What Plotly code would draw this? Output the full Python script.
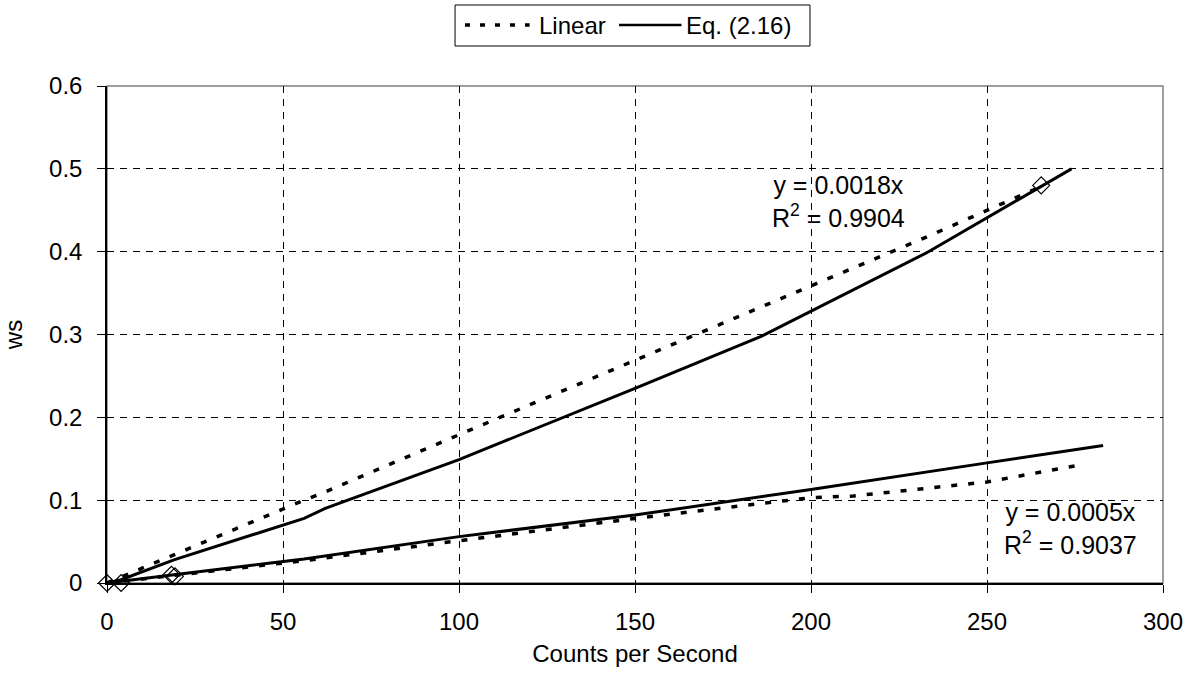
import plotly.graph_objects as go

# ---- data ----
upper_eq_x = [0, 4, 19, 56, 62, 100, 150, 186, 233, 274]
upper_eq_y = [0, 0.004, 0.028, 0.078, 0.09, 0.149, 0.235, 0.298, 0.399, 0.5]

upper_lin_x = [0, 4, 19, 56, 62, 100, 150, 186, 233, 265]
upper_lin_y = [0, 0.007, 0.034, 0.1, 0.11, 0.179, 0.269, 0.333, 0.418, 0.478]

lower_eq_x = [0, 4, 19, 56, 100, 150, 200, 250, 283]
lower_eq_y = [0, 0.002, 0.01, 0.029, 0.056, 0.082, 0.113, 0.145, 0.166]

lower_lin_x = [0, 4, 19, 56, 100, 150, 200, 212, 250, 277]
lower_lin_y = [0, 0.002, 0.009, 0.027, 0.051, 0.078, 0.103, 0.105, 0.122, 0.143]

measured_x = [0, 4, 18.3, 19.3, 265.4]
measured_y = [0, 0, 0.010, 0.008, 0.48]

x_ticks = [0, 50, 100, 150, 200, 250, 300]
y_ticks = [0, 0.1, 0.2, 0.3, 0.4, 0.5, 0.6]
y_tick_labels = ["0", "0.1", "0.2", "0.3", "0.4", "0.5", "0.6"]

legend_names = ["Linear", "Eq. (2.16)"]
upper_eq_text = "y = 0.0018x<br>R<sup>2</sup> = 0.9904"
lower_eq_text = "y = 0.0005x<br>R<sup>2</sup> = 0.9037"

FONT = "Liberation Sans, Arial, sans-serif"
DOT = "6px,11px"

fig = go.Figure()

fig.add_trace(go.Scatter(x=upper_lin_x, y=upper_lin_y, mode="lines", name=legend_names[0],
                         line=dict(color="black", width=3.5, dash=DOT), showlegend=False))
fig.add_trace(go.Scatter(x=lower_lin_x, y=lower_lin_y, mode="lines", name=legend_names[0],
                         line=dict(color="black", width=3.5, dash=DOT), showlegend=False))
fig.add_trace(go.Scatter(x=upper_eq_x, y=upper_eq_y, mode="lines", name=legend_names[1],
                         line=dict(color="black", width=3), showlegend=False))
fig.add_trace(go.Scatter(x=lower_eq_x, y=lower_eq_y, mode="lines", name=legend_names[1],
                         line=dict(color="black", width=3), showlegend=False))
fig.add_trace(go.Scatter(x=measured_x, y=measured_y, mode="markers", name="Measured",
                         marker=dict(symbol="diamond-open", size=13, color="black",
                                     line=dict(width=1.2, color="black")),
                         showlegend=False, cliponaxis=False))

fig.add_annotation(x=207.8, y=0.4607, xref="x", yref="y", text=upper_eq_text,
                   showarrow=False, align="center", font=dict(size=25, color="black", family=FONT))
fig.add_annotation(x=273.6, y=0.0652, xref="x", yref="y", text=lower_eq_text,
                   showarrow=False, align="center", font=dict(size=25, color="black", family=FONT))

# top/right plot border (gray)
fig.add_shape(type="rect", xref="paper", yref="paper", x0=0, y0=0, x1=1, y1=1,
              line=dict(color="#808080", width=1.5), layer="below")

# legend box (drawn as shapes + text, Excel style)
fig.add_shape(type="rect", xref="paper", yref="paper", x0=0.3296, x1=0.6657,
              y0=1.0805, y1=1.163, line=dict(color="black", width=1), fillcolor="white")
fig.add_shape(type="line", xref="paper", yref="paper", x0=0.3390, x1=0.4002,
              y0=1.1227, y1=1.1227, line=dict(color="black", width=3.5, dash="5px,10px"))
fig.add_annotation(x=0.4068, y=1.1227, xref="paper", yref="paper", text=legend_names[0],
                   showarrow=False, xanchor="left", yanchor="middle",
                   font=dict(size=24, color="black", family=FONT))
fig.add_shape(type="line", xref="paper", yref="paper", x0=0.4849, x1=0.5440,
              y0=1.1227, y1=1.1227, line=dict(color="black", width=2.5))
fig.add_annotation(x=0.5461, y=1.1227, xref="paper", yref="paper", text=legend_names[1],
                   showarrow=False, xanchor="left", yanchor="middle",
                   font=dict(size=24, color="black", family=FONT))

fig.update_layout(
    width=1195, height=678,
    margin=dict(l=103, r=30, t=86, b=95),
    paper_bgcolor="white", plot_bgcolor="white",
    font=dict(family=FONT, size=24, color="black"),
    showlegend=False,
    xaxis=dict(range=[0, 300], tickvals=x_ticks, ticks="outside", ticklen=8,
               tickcolor="black", showline=True, linecolor="black", linewidth=1.5,
               showgrid=True, gridcolor="black", gridwidth=1, griddash="7px,6px",
               zeroline=False, ticklabelstandoff=8,
               title=dict(text="Counts per Second", standoff=12, font=dict(size=24))),
    yaxis=dict(range=[0, 0.6], tickvals=y_ticks, ticktext=y_tick_labels, ticks="outside",
               ticklen=8, tickcolor="black", showline=True, linecolor="black", linewidth=1.5,
               showgrid=True, gridcolor="black", gridwidth=1, griddash="7px,6px",
               zeroline=False, ticklabelstandoff=10,
               title=dict(text="ws", standoff=20, font=dict(size=24))),
)

fig.write_html("out.html")
